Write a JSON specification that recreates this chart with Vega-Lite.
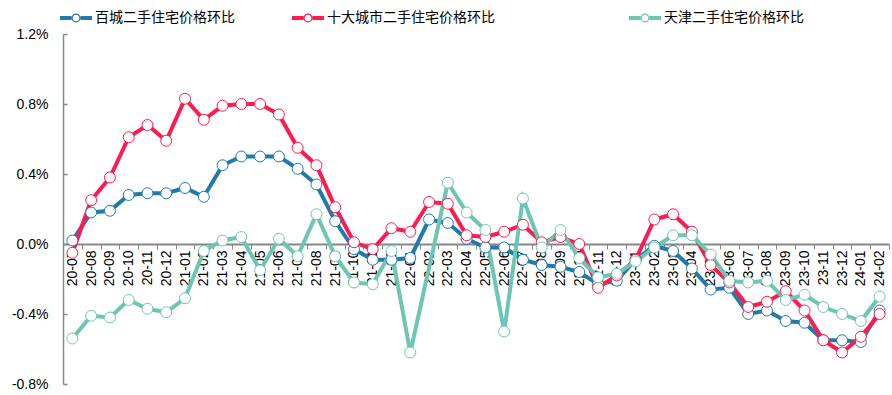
{
  "$schema": "https://vega.github.io/schema/vega-lite/v6.json",
  "width": 826,
  "height": 350,
  "autosize": {"type": "none"},
  "padding": {"left": 63, "top": 34, "right": 3, "bottom": 11},
  "background": "white",
  "config": {"view": {"stroke": null}, "font": "Liberation Sans"},
  "data": {
    "values": [
      {"m": "20-07", "百城二手住宅价格环比": 0.02, "十大城市二手住宅价格环比": -0.05, "天津二手住宅价格环比": -0.54},
      {"m": "20-08", "百城二手住宅价格环比": 0.18, "十大城市二手住宅价格环比": 0.25, "天津二手住宅价格环比": -0.41},
      {"m": "20-09", "百城二手住宅价格环比": 0.19, "十大城市二手住宅价格环比": 0.38, "天津二手住宅价格环比": -0.42},
      {"m": "20-10", "百城二手住宅价格环比": 0.28, "十大城市二手住宅价格环比": 0.61, "天津二手住宅价格环比": -0.32},
      {"m": "20-11", "百城二手住宅价格环比": 0.29, "十大城市二手住宅价格环比": 0.68, "天津二手住宅价格环比": -0.37},
      {"m": "20-12", "百城二手住宅价格环比": 0.29, "十大城市二手住宅价格环比": 0.59, "天津二手住宅价格环比": -0.39},
      {"m": "21-01", "百城二手住宅价格环比": 0.32, "十大城市二手住宅价格环比": 0.83, "天津二手住宅价格环比": -0.31},
      {"m": "21-02", "百城二手住宅价格环比": 0.27, "十大城市二手住宅价格环比": 0.71, "天津二手住宅价格环比": -0.04},
      {"m": "21-03", "百城二手住宅价格环比": 0.45, "十大城市二手住宅价格环比": 0.79, "天津二手住宅价格环比": 0.02},
      {"m": "21-04", "百城二手住宅价格环比": 0.50, "十大城市二手住宅价格环比": 0.80, "天津二手住宅价格环比": 0.04},
      {"m": "21-05", "百城二手住宅价格环比": 0.50, "十大城市二手住宅价格环比": 0.80, "天津二手住宅价格环比": -0.15},
      {"m": "21-06", "百城二手住宅价格环比": 0.50, "十大城市二手住宅价格环比": 0.74, "天津二手住宅价格环比": 0.03},
      {"m": "21-07", "百城二手住宅价格环比": 0.43, "十大城市二手住宅价格环比": 0.55, "天津二手住宅价格环比": -0.07},
      {"m": "21-08", "百城二手住宅价格环比": 0.34, "十大城市二手住宅价格环比": 0.45, "天津二手住宅价格环比": 0.17},
      {"m": "21-09", "百城二手住宅价格环比": 0.13, "十大城市二手住宅价格环比": 0.21, "天津二手住宅价格环比": -0.07},
      {"m": "21-10", "百城二手住宅价格环比": -0.03, "十大城市二手住宅价格环比": 0.01, "天津二手住宅价格环比": -0.22},
      {"m": "21-11", "百城二手住宅价格环比": -0.09, "十大城市二手住宅价格环比": -0.03, "天津二手住宅价格环比": -0.23},
      {"m": "21-12", "百城二手住宅价格环比": -0.09, "十大城市二手住宅价格环比": 0.09, "天津二手住宅价格环比": -0.04},
      {"m": "22-01", "百城二手住宅价格环比": -0.08, "十大城市二手住宅价格环比": 0.07, "天津二手住宅价格环比": -0.62},
      {"m": "22-02", "百城二手住宅价格环比": 0.14, "十大城市二手住宅价格环比": 0.24, "天津二手住宅价格环比": null},
      {"m": "22-03", "百城二手住宅价格环比": 0.12, "十大城市二手住宅价格环比": 0.23, "天津二手住宅价格环比": 0.35},
      {"m": "22-04", "百城二手住宅价格环比": 0.03, "十大城市二手住宅价格环比": 0.05, "天津二手住宅价格环比": 0.18},
      {"m": "22-05", "百城二手住宅价格环比": -0.02, "十大城市二手住宅价格环比": 0.04, "天津二手住宅价格环比": 0.08},
      {"m": "22-06", "百城二手住宅价格环比": -0.02, "十大城市二手住宅价格环比": 0.07, "天津二手住宅价格环比": -0.50},
      {"m": "22-07", "百城二手住宅价格环比": -0.09, "十大城市二手住宅价格环比": 0.11, "天津二手住宅价格环比": 0.26},
      {"m": "22-08", "百城二手住宅价格环比": -0.12, "十大城市二手住宅价格环比": 0.01, "天津二手住宅价格环比": -0.02},
      {"m": "22-09", "百城二手住宅价格环比": -0.13, "十大城市二手住宅价格环比": 0.04, "天津二手住宅价格环比": 0.08},
      {"m": "22-10", "百城二手住宅价格环比": -0.16, "十大城市二手住宅价格环比": 0.00, "天津二手住宅价格环比": -0.08},
      {"m": "22-11", "百城二手住宅价格环比": -0.23, "十大城市二手住宅价格环比": -0.25, "天津二手住宅价格环比": -0.19},
      {"m": "22-12", "百城二手住宅价格环比": -0.21, "十大城市二手住宅价格环比": -0.18, "天津二手住宅价格环比": -0.17},
      {"m": "23-01", "百城二手住宅价格环比": -0.09, "十大城市二手住宅价格环比": -0.09, "天津二手住宅价格环比": -0.10},
      {"m": "23-02", "百城二手住宅价格环比": -0.01, "十大城市二手住宅价格环比": 0.14, "天津二手住宅价格环比": -0.02},
      {"m": "23-03", "百城二手住宅价格环比": -0.04, "十大城市二手住宅价格环比": 0.17, "天津二手住宅价格环比": 0.05},
      {"m": "23-04", "百城二手住宅价格环比": -0.14, "十大城市二手住宅价格环比": 0.07, "天津二手住宅价格环比": 0.05},
      {"m": "23-05", "百城二手住宅价格环比": -0.26, "十大城市二手住宅价格环比": -0.12, "天津二手住宅价格环比": -0.06},
      {"m": "23-06", "百城二手住宅价格环比": -0.25, "十大城市二手住宅价格环比": -0.22, "天津二手住宅价格环比": -0.21},
      {"m": "23-07", "百城二手住宅价格环比": -0.40, "十大城市二手住宅价格环比": -0.36, "天津二手住宅价格环比": -0.22},
      {"m": "23-08", "百城二手住宅价格环比": -0.38, "十大城市二手住宅价格环比": -0.33, "天津二手住宅价格环比": -0.21},
      {"m": "23-09", "百城二手住宅价格环比": -0.44, "十大城市二手住宅价格环比": -0.27, "天津二手住宅价格环比": -0.32},
      {"m": "23-10", "百城二手住宅价格环比": -0.45, "十大城市二手住宅价格环比": -0.38, "天津二手住宅价格环比": -0.29},
      {"m": "23-11", "百城二手住宅价格环比": -0.55, "十大城市二手住宅价格环比": -0.55, "天津二手住宅价格环比": -0.36},
      {"m": "23-12", "百城二手住宅价格环比": -0.55, "十大城市二手住宅价格环比": -0.62, "天津二手住宅价格环比": -0.40},
      {"m": "24-01", "百城二手住宅价格环比": -0.56, "十大城市二手住宅价格环比": -0.53, "天津二手住宅价格环比": -0.44},
      {"m": "24-02", "百城二手住宅价格环比": -0.38, "十大城市二手住宅价格环比": -0.40, "天津二手住宅价格环比": -0.30}
    ]
  },
  "transform": [
    {"fold": ["百城二手住宅价格环比", "十大城市二手住宅价格环比", "天津二手住宅价格环比"], "as": ["s", "v"]}
  ],
  "encoding": {
    "x": {
      "field": "m",
      "type": "ordinal",
      "scale": {
        "type": "band",
        "paddingInner": 0,
        "paddingOuter": 0,
        "domain": ["20-07","20-08","20-09","20-10","20-11","20-12","21-01","21-02","21-03","21-04","21-05","21-06","21-07","21-08","21-09","21-10","21-11","21-12","22-01","22-02","22-03","22-04","22-05","22-06","22-07","22-08","22-09","22-10","22-11","22-12","23-01","23-02","23-03","23-04","23-05","23-06","23-07","23-08","23-09","23-10","23-11","23-12","24-01","24-02"]
      },
      "axis": {
        "title": null,
        "orient": "bottom",
        "offset": -140,
        "grid": false,
        "domainColor": "#868686",
        "domainWidth": 2,
        "tickBand": "extent",
        "tickColor": "#868686",
        "tickWidth": 1,
        "tickSize": 5,
        "labelAngle": -90,
        "labelAlign": "right",
        "labelBaseline": "middle",
        "labelFont": "Liberation Sans",
        "labelFontSize": 14,
        "labelColor": "#000000",
        "labelPadding": 1,
        "labelOverlap": false
      }
    },
    "y": {
      "field": "v",
      "type": "quantitative",
      "scale": {"domain": [-0.8, 1.2], "nice": false, "zero": false},
      "axis": {
        "title": null,
        "grid": false,
        "values": [-0.8, -0.4, 0, 0.4, 0.8, 1.2],
        "labelExpr": "replace(format(datum.value, '.1f'), '\u2212', '-') + '%'",
        "domainColor": "#868686",
        "domainWidth": 1.5,
        "tickColor": "#868686",
        "tickWidth": 1.5,
        "tickSize": -4,
        "labelPadding": 19,
        "labelFont": "Liberation Sans",
        "labelFontSize": 14,
        "labelColor": "#000000"
      }
    },
    "color": {
      "field": "s",
      "type": "nominal",
      "scale": {
        "domain": ["百城二手住宅价格环比", "十大城市二手住宅价格环比", "天津二手住宅价格环比"],
        "range": ["#217AAA", "#FF1B50", "#6DC5B3"]
      },
      "legend": {
        "orient": "none",
        "direction": "horizontal",
        "legendX": -3,
        "legendY": -32,
        "title": null,
        "symbolType": "M-1,-0.125H-0.28V0.125H-1Z M0.28,-0.125H1V0.125H0.28Z M0.28,0A0.28,0.28,0,1,1,-0.28,0A0.28,0.28,0,1,1,0.28,0Z M0.21,0A0.21,0.21,0,1,0,-0.21,0A0.21,0.21,0,1,0,0.21,0Z",
        "symbolSize": 1024,
        "symbolStrokeWidth": 0,
        "labelFont": "Noto Sans CJK SC",
        "labelFontSize": 14,
        "labelColor": "#000000",
        "labelOffset": 3,
        "labelLimit": 400,
        "columnPadding": 57,
        "labelExpr": "datum.index == 1 ? datum.label + '\u3000\u3000\u3000\u3000\u3000\u2002\u200b' : datum.label",
        "encode": {
          "symbols": {
            "update": {
              "fill": {"scale": "color", "field": "value"},
              "stroke": {"value": "transparent"},
              "opacity": {"value": 1},
              "fillOpacity": {"value": 1}
            }
          }
        }
      }
    }
  },
  "layer": [
    {"mark": {"type": "line", "strokeWidth": 4, "invalid": "filter"}},
    {"mark": {"type": "point", "shape": "circle", "filled": false, "fill": "white", "fillOpacity": 1, "opacity": 1, "size": 120, "strokeWidth": 1, "invalid": "filter"}}
  ]
}
